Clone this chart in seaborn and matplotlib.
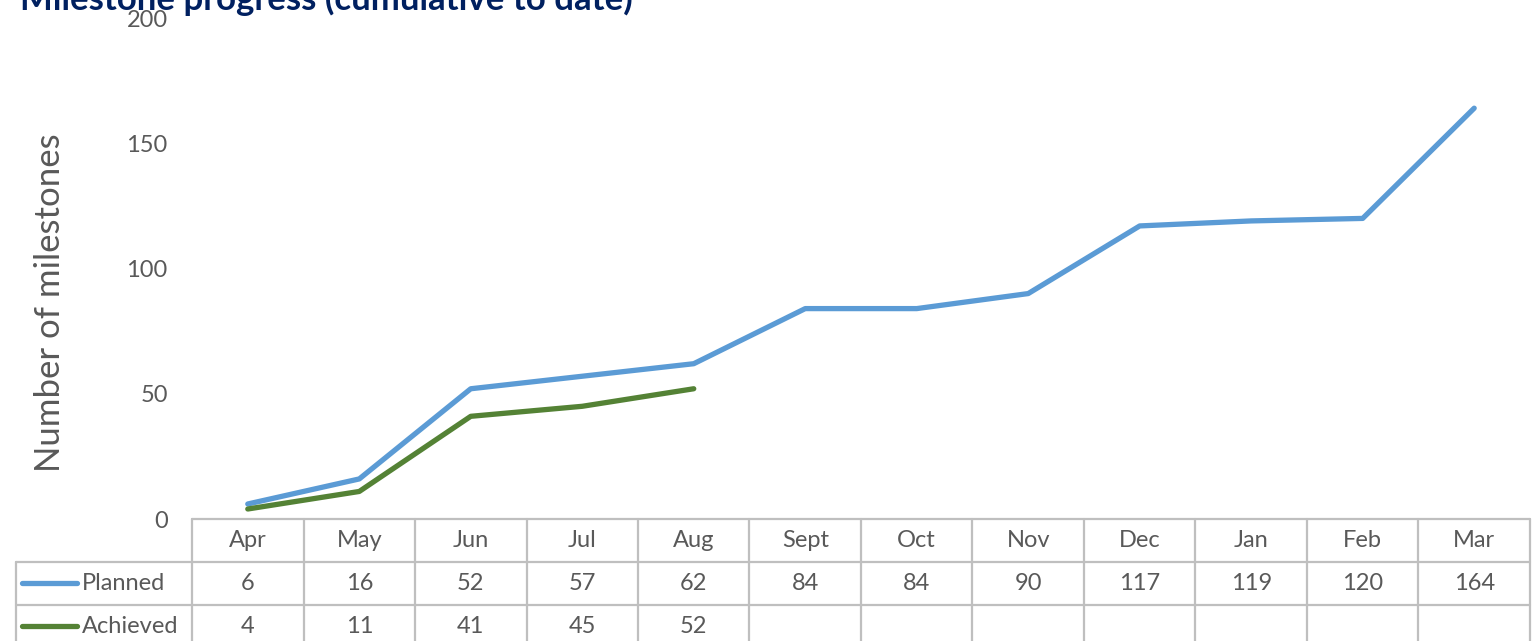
import matplotlib
matplotlib.use("Agg")
import matplotlib.pyplot as plt
import matplotlib.transforms as mtransforms
from matplotlib.lines import Line2D
import numpy as np
import pandas as pd
import seaborn as sns

# ---- data ----
months = ["Apr", "May", "Jun", "Jul", "Aug", "Sept", "Oct", "Nov", "Dec", "Jan", "Feb", "Mar"]
planned = [6, 16, 52, 57, 62, 84, 84, 90, 117, 119, 120, 164]
achieved = [4, 11, 41, 45, 52]
series_names = ["Planned", "Achieved"]
yticks = [0, 50, 100, 150, 200]
title = "Milestone progress (cumulative to date)"
ylabel = "Number of milestones"

colors = {"Planned": "#5B9BD5", "Achieved": "#548235"}
text_col = "#595959"
grid_col = "#BFBFBF"

sns.set_theme(style="white")
plt.rcParams["font.family"] = ["Lato", "DejaVu Sans"]

df = pd.concat([
    pd.DataFrame({"pos": np.arange(len(planned)), "value": planned, "series": "Planned"}),
    pd.DataFrame({"pos": np.arange(len(achieved)), "value": achieved, "series": "Achieved"}),
])

fig = plt.figure(figsize=(15.35, 6.41), dpi=100)
ax = fig.add_axes([0.1251, 0.1903, 0.8716, 0.7816])

sns.lineplot(data=df, x="pos", y="value", hue="series", hue_order=series_names,
             palette=colors, linewidth=3.8, ax=ax, legend=False, sort=False)

ax.set_xlim(-0.5, len(months) - 0.5)
ax.set_ylim(0, 200)
ax.set_yticks(yticks)
ax.set_yticklabels([str(t) for t in yticks], color=text_col, fontsize=17)
ax.tick_params(axis="y", length=0, pad=17.5)
ax.set_xticks([])
ax.set_xlabel("")
ax.set_ylabel("")
for s in ax.spines.values():
    s.set_visible(False)

fig.text(50 / 1535, 1 - 303 / 641, ylabel, rotation=90, ha="center", va="center",
         fontsize=25, color=text_col)
fig.text(20 / 1535, 1 - 10 / 641, title, ha="left", va="baseline",
         fontsize=25, fontweight="bold", color="#002060")

# ---- data table ----
trans = mtransforms.blended_transform_factory(ax.transData, ax.transAxes)
n = len(months)
row_h = 0.0858
y_lines = [0, -row_h, -2 * row_h, -3 * row_h]
left_lbl = -2.08
lw = 1.6

# horizontal lines
ax.add_line(Line2D([-0.5, n - 0.5], [0, 0], transform=trans, color=grid_col, lw=lw, clip_on=False))
for yl in y_lines[1:]:
    ax.add_line(Line2D([left_lbl, n - 0.5], [yl, yl], transform=trans, color=grid_col, lw=lw, clip_on=False))
# vertical lines
for i in range(n + 1):
    ax.add_line(Line2D([i - 0.5, i - 0.5], [0, y_lines[-1]], transform=trans, color=grid_col, lw=lw, clip_on=False))
ax.add_line(Line2D([left_lbl, left_lbl], [y_lines[1], y_lines[-1]], transform=trans, color=grid_col, lw=lw, clip_on=False))

# header
for i, m in enumerate(months):
    ax.text(i, -row_h / 2, m, transform=trans, ha="center", va="center",
            fontsize=17, color=text_col, clip_on=False)

rows = {"Planned": planned, "Achieved": achieved}
for r, name in enumerate(series_names):
    yc = -row_h * (r + 1.5)
    vals = rows[name]
    for i, v in enumerate(vals):
        ax.text(i, yc, str(v), transform=trans, ha="center", va="center",
                fontsize=17, color=text_col, clip_on=False)
    ax.add_line(Line2D([-2.025, -1.535], [yc, yc], transform=trans, color=colors[name],
                       lw=3.8, solid_capstyle="round", clip_on=False))
    ax.text(-1.49, yc, name, transform=trans, ha="left", va="center",
            fontsize=17, color=text_col, clip_on=False)

fig.savefig("out.png", dpi=100)
